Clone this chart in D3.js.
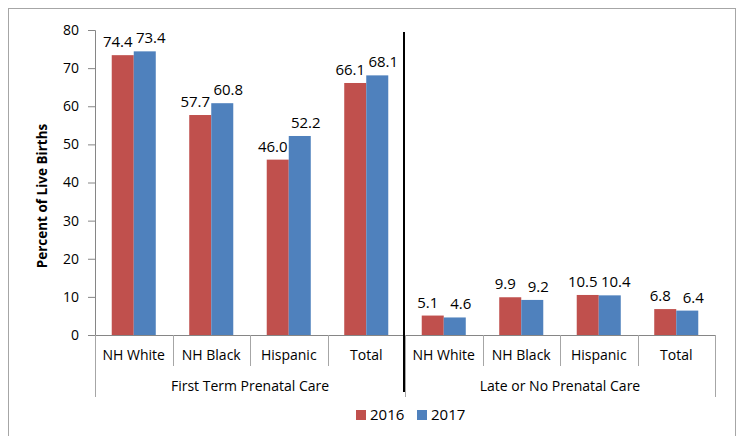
<!DOCTYPE html>
<html>
<head>
<meta charset="utf-8">
<script src="https://cdn.jsdelivr.net/npm/d3@7"></script>
<style>
  body { margin: 0; background: #fff; }
  text { font-family: "Open Sans", sans-serif; fill: #000; }
</style>
</head>
<body>
<div id="chart"></div>
<script>
// chart data
var groups = ["First Term Prenatal Care", "Late or No Prenatal Care"];
var categories = ["NH White", "NH Black", "Hispanic", "Total"];
var seriesNames = ["2016", "2017"];
var values2016 = [73.4, 57.7, 46.0, 66.1, 5.1, 9.9, 10.5, 6.8];
var values2017 = [74.4, 60.8, 52.2, 68.1, 4.6, 9.2, 10.4, 6.4];
// data labels as printed on the original chart
var labels2016 = ["74.4", "57.7", "46.0", "66.1", "5.1", "9.9", "10.5", "6.8"];
var labels2017 = ["73.4", "60.8", "52.2", "68.1", "4.6", "9.2", "10.4", "6.4"];
var yTicks = [0, 10, 20, 30, 40, 50, 60, 70, 80];

var colors = { "2016": "#C0504D", "2017": "#4F81BD" };

var W = 738, H = 436;
var plot = { left: 95, right: 715, top: 30, bottom: 335 };

var svg = d3.select("#chart").append("svg")
  .attr("width", W).attr("height", H);

// outer frame
svg.append("rect")
  .attr("x", 8.5).attr("y", 8.5)
  .attr("width", 727).attr("height", 440)
  .attr("fill", "none").attr("stroke", "#A6A6A6");

// build rows from arrays
var rows = [];
groups.forEach(function (g, gi) {
  categories.forEach(function (c, ci) {
    var i = gi * categories.length + ci;
    rows.push({
      key: g + "|" + c, group: g, cat: c,
      bars: [
        { s: "2016", v: values2016[i], label: labels2016[i] },
        { s: "2017", v: values2017[i], label: labels2017[i] }
      ]
    });
  });
});

var x0 = d3.scaleBand()
  .domain(rows.map(function (d) { return d.key; }))
  .range([plot.left, plot.right]);

var x1 = d3.scaleBand()
  .domain(seriesNames)
  .range([0, x0.bandwidth()])
  .paddingOuter(0.76);

var y = d3.scaleLinear().domain([0, 80]).range([plot.bottom, plot.top]);

// y axis
var yAxis = svg.append("g")
  .attr("transform", "translate(" + plot.left + ",0)")
  .call(d3.axisLeft(y).tickValues(yTicks).tickSize(7).tickPadding(9));
yAxis.select(".domain").attr("stroke", "#868686");
yAxis.selectAll(".tick line").attr("stroke", "#868686");
yAxis.selectAll(".tick text").style("font-size", "14px").attr("fill", "#000");

svg.append("text")
  .attr("transform", "translate(47,196) rotate(-90)")
  .attr("text-anchor", "middle")
  .style("font-size", "13.5px").style("font-weight", "bold")
  .text("Percent of Live Births");

// bars
var cat = svg.selectAll(".cat").data(rows).enter().append("g")
  .attr("class", "cat")
  .attr("transform", function (d) { return "translate(" + x0(d.key) + ",0)"; });

cat.selectAll("rect").data(function (d) { return d.bars; }).enter().append("rect")
  .attr("x", function (d) { return x1(d.s); })
  .attr("width", x1.bandwidth())
  .attr("y", function (d) { return y(d.v); })
  .attr("height", function (d) { return y(0) - y(d.v); })
  .attr("fill", function (d) { return colors[d.s]; });

// labels pushed slightly apart, as excel does when they would touch
cat.selectAll(".lbl").data(function (d) { return d.bars; }).enter().append("text")
  .attr("class", "lbl")
  .attr("x", function (d) { return x1(d.s) + x1.bandwidth() / 2 + (d.s === "2016" ? -5 : 6); })
  .attr("y", function (d) { return y(d.v) - 8; })
  .attr("text-anchor", "middle")
  .style("font-size", "15px")
  .text(function (d) { return d.label; });

// x axis baseline
var axisColor = "#A6A6A6";
svg.append("line")
  .attr("x1", plot.left - 7).attr("x2", plot.right)
  .attr("y1", plot.bottom + 0.5).attr("y2", plot.bottom + 0.5)
  .attr("stroke", "#868686");

// category separators and labels
var bounds = rows.map(function (d) { return x0(d.key); }).concat([plot.right]);
svg.selectAll(".sep").data(bounds).enter().append("line")
  .attr("x1", function (d) { return Math.round(d) + 0.5; })
  .attr("x2", function (d) { return Math.round(d) + 0.5; })
  .attr("y1", plot.bottom)
  .attr("y2", function (d, i) { return i % categories.length === 0 ? 397 : 366; })
  .attr("stroke", axisColor);

svg.selectAll(".catlbl").data(rows).enter().append("text")
  .attr("x", function (d) { return x0(d.key) + x0.bandwidth() / 2; })
  .attr("y", 360)
  .attr("text-anchor", "middle")
  .style("font-size", "14px")
  .text(function (d) { return d.cat; });

svg.selectAll(".grplbl").data(groups).enter().append("text")
  .attr("x", function (g, gi) {
    var a = x0(rows[gi * categories.length].key);
    var b = x0(rows[gi * categories.length + categories.length - 1].key) + x0.bandwidth();
    return (a + b) / 2;
  })
  .attr("y", 391)
  .attr("text-anchor", "middle")
  .style("font-size", "14px")
  .text(function (g) { return g; });

// thick divider between the two groups
var divX = x0(rows[categories.length].key) - 1;
svg.append("line")
  .attr("x1", divX).attr("x2", divX)
  .attr("y1", 32).attr("y2", 392)
  .attr("stroke", "#000").attr("stroke-width", 2);

// legend
var legend = svg.append("g").attr("transform", "translate(356,410)");
var li = legend.selectAll("g").data(seriesNames).enter().append("g")
  .attr("transform", function (d, i) { return "translate(" + (i * 61) + ",0)"; });
li.append("rect").attr("width", 10).attr("height", 10)
  .attr("fill", function (d) { return colors[d]; });
li.append("text").attr("x", 14).attr("y", 10)
  .style("font-size", "15px")
  .text(function (d) { return d; });
</script>
</body>
</html>
